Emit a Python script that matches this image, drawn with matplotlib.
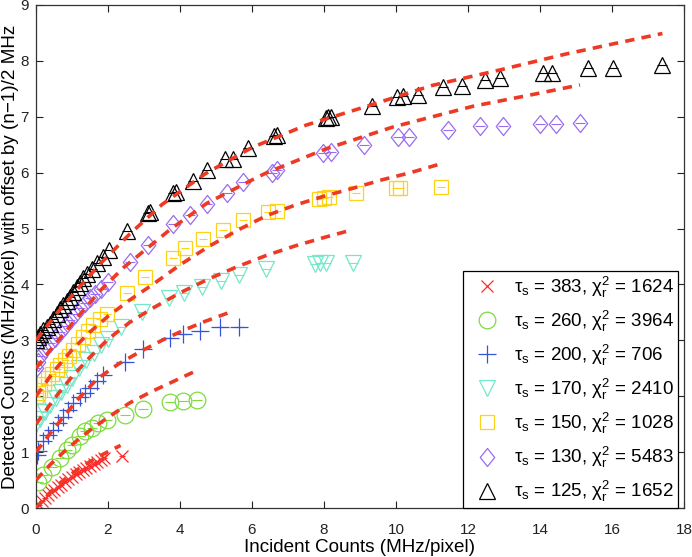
import matplotlib
matplotlib.use('Agg')  # no display available
import matplotlib.pyplot as plt
from matplotlib.path import Path

plt.rcParams['font.family'] = ['Liberation Sans', 'DejaVu Sans']
plt.rcParams['mathtext.fontset'] = 'custom'
plt.rcParams['mathtext.rm'] = 'Liberation Sans'
plt.rcParams['mathtext.it'] = 'Liberation Sans:italic'

# ---- measured points (incident, detected + offset) ----
x_383 = [0.0, 0.08, 0.16, 0.25, 0.33, 0.42, 0.5, 0.6, 0.7, 0.8, 0.9, 1.0, 1.1,
         1.2, 1.3, 1.4, 1.5, 1.6, 1.7, 1.8, 1.9, 2.4]
y_383 = [0.0, 0.06, 0.12, 0.18, 0.23, 0.28, 0.32, 0.37, 0.42, 0.47, 0.52, 0.56,
         0.6, 0.64, 0.68, 0.71, 0.75, 0.78, 0.82, 0.86, 0.89, 0.93]

x_260 = [0.06, 0.2, 0.44, 0.67, 0.85, 0.99, 1.22, 1.36, 1.55, 1.73, 1.96, 2.47,
         2.98, 3.72, 4.09, 4.46]
y_260 = [0.47, 0.59, 0.74, 0.89, 1.04, 1.13, 1.28, 1.37, 1.43, 1.52, 1.57, 1.66,
         1.78, 1.9, 1.92, 1.93]

x_200 = [0.02, 0.06, 0.2, 0.34, 0.48, 0.62, 0.76, 0.9, 1.04, 1.22, 1.35, 1.5,
         1.7, 1.87, 2.47, 2.98, 3.72, 4.09, 4.56, 5.11, 5.65]
y_200 = [0.95, 1.02, 1.19, 1.31, 1.4, 1.52, 1.63, 1.75, 1.87, 1.99, 2.06, 2.14,
         2.28, 2.38, 2.62, 2.85, 3.04, 3.12, 3.17, 3.23, 3.24]

x_170 = [0.0, 0.1, 0.25, 0.4, 0.55, 0.7, 0.85, 1.0, 1.2, 1.4, 1.6, 1.8, 2.0,
         2.35, 2.95, 3.7, 4.1, 4.6, 5.15, 5.65, 6.4, 7.75, 7.9, 8.05, 8.8]
y_170 = [1.5, 1.6, 1.72, 1.85, 1.97, 2.08, 2.2, 2.32, 2.5, 2.64, 2.78, 2.92,
         3.03, 3.24, 3.5, 3.76, 3.84, 3.96, 4.07, 4.17, 4.27, 4.37, 4.38, 4.38,
         4.38]

x_150 = [0.0, 0.06, 0.11, 0.22, 0.34, 0.45, 0.57, 0.68, 0.8, 0.92, 1.04, 1.18,
         1.31, 1.45, 1.59, 1.78, 1.96, 2.52, 3.03, 3.81, 4.14, 4.65, 5.2, 5.76,
         6.45, 6.7, 7.85, 8.0, 8.15, 8.9, 10.0, 10.1, 11.25]
y_150 = [2.0, 2.05, 2.11, 2.22, 2.32, 2.4, 2.48, 2.56, 2.64, 2.72, 2.82, 2.94,
         3.06, 3.16, 3.27, 3.38, 3.48, 3.84, 4.14, 4.47, 4.65, 4.82, 4.98, 5.15,
         5.3, 5.32, 5.53, 5.55, 5.56, 5.64, 5.72, 5.73, 5.75]

x_130 = [0.0, 0.06, 0.11, 0.25, 0.39, 0.53, 0.67, 0.8, 0.94, 1.08, 1.22, 1.36,
         1.5, 1.65, 1.8, 2.01, 2.61, 3.12, 3.81, 4.28, 4.74, 5.3, 5.76, 6.55,
         6.7, 7.98, 8.2, 9.1, 10.05, 10.35, 11.45, 12.33, 12.98, 14.0, 14.45,
         15.1]
y_130 = [2.5, 2.62, 2.72, 2.84, 2.95, 3.05, 3.15, 3.26, 3.36, 3.47, 3.57, 3.66,
         3.75, 3.83, 3.92, 4.04, 4.4, 4.7, 5.09, 5.24, 5.44, 5.63, 5.84, 6.0,
         6.05, 6.36, 6.37, 6.5, 6.64, 6.64, 6.76, 6.83, 6.83, 6.87, 6.87, 6.88]

x_125 = [0.0, 0.05, 0.1, 0.2, 0.3, 0.39, 0.48, 0.57, 0.67, 0.76, 0.85, 0.94,
         1.04, 1.13, 1.22, 1.31, 1.43, 1.55, 1.69, 1.85, 2.03, 2.52, 3.1, 3.17,
         3.81, 3.9, 4.37, 4.74, 5.25, 5.48, 5.9, 6.62, 6.7, 8.05, 8.12, 8.2,
         9.32, 10.02, 10.2, 10.62, 11.31, 11.82, 12.47, 12.89, 14.09, 14.32,
         15.34, 16.04, 17.38]
y_125 = [3.0, 3.06, 3.12, 3.18, 3.24, 3.3, 3.39, 3.48, 3.56, 3.63, 3.7, 3.78,
         3.87, 3.96, 4.03, 4.11, 4.19, 4.27, 4.38, 4.5, 4.62, 4.96, 5.27, 5.3,
         5.63, 5.66, 5.85, 6.05, 6.24, 6.24, 6.45, 6.65, 6.67, 6.98, 7.0, 6.99,
         7.19, 7.35, 7.37, 7.39, 7.54, 7.55, 7.66, 7.69, 7.79, 7.79, 7.87, 7.88,
         7.92]

# ---- fitted curves ----
fit_x_383 = [0.0, 0.3, 0.6, 0.9, 1.2, 1.5, 1.8, 2.1, 2.35]
fit_y_383 = [0.0, 0.22, 0.41, 0.57, 0.71, 0.83, 0.94, 1.04, 1.12]
fit_x_260 = [0.0, 0.4, 0.8, 1.2, 1.6, 2.0, 2.6, 3.2, 3.8, 4.4]
fit_y_260 = [0.5, 0.78, 1.02, 1.24, 1.44, 1.62, 1.88, 2.08, 2.26, 2.44]
fit_x_200 = [0.0, 0.4, 0.8, 1.2, 1.7, 2.3, 2.9, 3.5, 4.1, 4.7, 5.5]
fit_y_200 = [1.0, 1.34, 1.66, 1.97, 2.31, 2.58, 2.8, 3.0, 3.18, 3.34, 3.53]
fit_x_170 = [0.0, 0.5, 1.0, 1.5, 2.0, 2.6, 3.2, 4.0, 4.8, 5.6, 6.4, 7.2, 8.0, 8.8]
fit_y_170 = [1.5, 1.95, 2.35, 2.7, 3.02, 3.32, 3.56, 3.85, 4.1, 4.32, 4.52,
             4.69, 4.84, 4.98]
fit_x_150 = [0.0, 0.5, 1.0, 1.5, 2.0, 2.6, 3.2, 4.0, 4.8, 5.6, 6.4, 7.2, 8.0,
             8.8, 9.6, 10.4, 11.2]
fit_y_150 = [2.0, 2.45, 2.83, 3.15, 3.43, 3.72, 3.98, 4.35, 4.68, 4.97, 5.23,
             5.42, 5.58, 5.72, 5.87, 6.0, 6.15]
fit_x_130 = [0.0, 0.4, 1.2, 1.8, 2.43, 3.72, 4.74, 5.94, 6.41, 8.07, 9.93,
             12.15, 13.81, 15.11]
fit_y_130 = [2.5, 2.83, 3.45, 3.9, 4.3, 4.98, 5.45, 5.85, 6.0, 6.43, 6.82,
             7.19, 7.4, 7.57]
fit_x_125 = [0.0, 0.6, 1.2, 1.8, 2.6, 3.5, 4.7, 6.0, 7.5, 9.2, 11.0, 12.9,
             14.7, 16.0, 17.4]
fit_y_125 = [3.0, 3.5, 3.95, 4.38, 4.9, 5.43, 5.98, 6.45, 6.85, 7.19, 7.56,
             7.84, 8.12, 8.3, 8.49]

tau_values = [383, 260, 200, 170, 150, 130, 125]
chi2_values = [1624, 3964, 706, 2410, 1028, 5483, 1652]

# tall diamond like the MATLAB one
diamond = Path([(0, 1), (0.8, 0), (0, -1), (-0.8, 0), (0, 1)],
               [Path.MOVETO, Path.LINETO, Path.LINETO, Path.LINETO, Path.CLOSEPOLY])


def main():
    data = [
        (x_383, y_383, fit_x_383, fit_y_383, 'x', 9, '#ff2a2a'),
        (x_260, y_260, fit_x_260, fit_y_260, 'o', 12, '#7ddc3c'),
        (x_200, y_200, fit_x_200, fit_y_200, '+', 13, '#3355d8'),
        (x_170, y_170, fit_x_170, fit_y_170, 'v', 12, '#74e8c8'),
        (x_150, y_150, fit_x_150, fit_y_150, 's', 10, '#ffd21a'),
        (x_130, y_130, fit_x_130, fit_y_130, diamond, 13, '#9a6cf0'),
        (x_125, y_125, fit_x_125, fit_y_125, '^', 12, '#000000'),
    ]

    fig = plt.figure(figsize=(6.92, 5.57), dpi=100)
    ax = fig.add_axes([36 / 692, 49 / 557, 648 / 692, 503 / 557])

    for (xs, ys, fx, fy, mk, ms, col), tau, chi in zip(data, tau_values, chi2_values):
        label = r'$\mathregular{\tau_s}$ = %d, $\mathregular{\chi^2_r}$ = %d' % (tau, chi)
        ax.plot(xs, ys, linestyle='none', marker=mk, markersize=ms,
                markerfacecolor='none', markeredgecolor=col, markeredgewidth=0.9,
                label=label, zorder=2)
        # small error bar tees drawn inside the markers
        ax.plot(xs, ys, linestyle='none', marker='_', markersize=ms * 0.55,
                markeredgecolor=col, markeredgewidth=0.8, zorder=2)

    # fitted curves on top
    for xs, ys, fx, fy, mk, ms, col in data:
        ax.plot(fx, fy, color='#ee3a24', linewidth=2.6, dashes=(2.6, 2.0), zorder=3)

    ax.set_xlim(0, 18)
    ax.set_ylim(0, 9)
    ax.set_xticks(range(0, 19, 2))
    ax.set_yticks(range(0, 10))
    ax.tick_params(direction='in', top=True, right=True, length=5, width=0.8,
                   labelsize=11, colors='#222222')
    ax.tick_params(axis='x', pad=11)
    ax.tick_params(axis='y', pad=5)
    for sp in ax.spines.values():
        sp.set_color('#333333')
        sp.set_linewidth(0.9)

    ax.set_xlabel('Incident Counts (MHz/pixel)', fontsize=13.6, labelpad=1)
    ax.set_ylabel('Detected Counts (MHz/pixel) with offset by (n\u22121)/2 MHz',
                  fontsize=13.6, labelpad=1)

    leg = ax.legend(loc='lower right', fontsize=13.5, frameon=True, fancybox=False,
                    edgecolor='black', framealpha=1, borderaxespad=0,
                    bbox_to_anchor=(678 / 692, 49 / 557), bbox_transform=fig.transFigure,
                    labelspacing=0.48, handlelength=2.2, handletextpad=0.35,
                    borderpad=0.2)
    leg.get_frame().set_linewidth(0.9)

    fig.savefig('out.png', dpi=100)


if __name__ == '__main__':
    main()
